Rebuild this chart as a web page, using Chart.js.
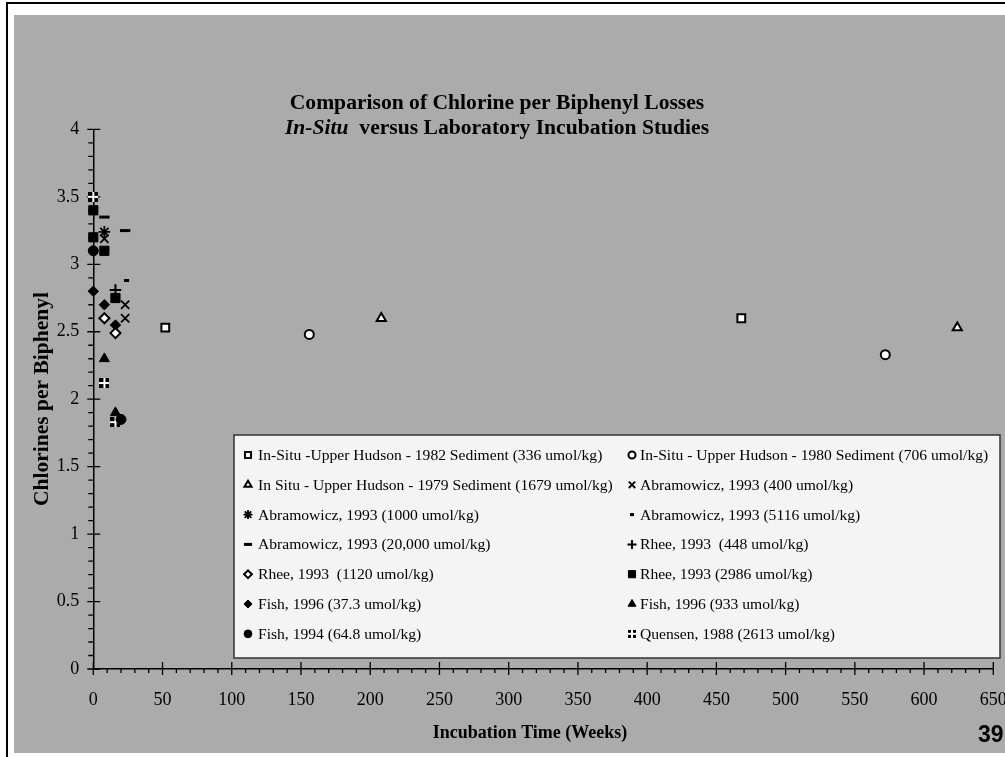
<!DOCTYPE html>
<html><head><meta charset="utf-8">
<script src="https://cdn.jsdelivr.net/npm/chart.js@4/dist/chart.umd.min.js"></script>
<style>
html,body{margin:0;padding:0;background:#fff;width:1005px;height:757px;overflow:hidden;}
#frame{position:absolute;left:6px;top:2px;width:1010px;height:770px;border-left:2px solid #000;border-top:2px solid #000;}
#panel{position:absolute;left:14px;top:15px;width:991px;height:738px;background:#ababab;}
canvas{display:block;}
</style></head><body>
<div id="frame"></div>
<div id="panel"><canvas id="c" width="991" height="738" style="width:991px;height:738px"></canvas></div>
<script>
// ---------- DATA ----------
const seriesLabels = [
  'In-Situ -Upper Hudson - 1982 Sediment (336 umol/kg)',
  'In-Situ - Upper Hudson - 1980 Sediment (706 umol/kg)',
  'In Situ - Upper Hudson - 1979 Sediment (1679 umol/kg)',
  'Abramowicz, 1993 (400 umol/kg)',
  'Abramowicz, 1993 (1000 umol/kg)',
  'Abramowicz, 1993 (5116 umol/kg)',
  'Abramowicz, 1993 (20,000 umol/kg)',
  'Rhee, 1993  (448 umol/kg)',
  'Rhee, 1993  (1120 umol/kg)',
  'Rhee, 1993 (2986 umol/kg)',
  'Fish, 1996 (37.3 umol/kg)',
  'Fish, 1996 (933 umol/kg)',
  'Fish, 1994 (64.8 umol/kg)',
  'Quensen, 1988 (2613 umol/kg)'
];
const weeksInSitu1982 = [52, 468];      const clInSitu1982 = [2.53, 2.60];
const weeksInSitu1980 = [156, 572];     const clInSitu1980 = [2.48, 2.33];
const weeksInSitu1979 = [208, 624];     const clInSitu1979 = [2.60, 2.53];
const weeksAbr400 = [8, 23, 23];        const clAbr400 = [3.19, 2.70, 2.60];
const weeksAbr1000 = [8];               const clAbr1000 = [3.24];
const weeksAbr5116 = [24];              const clAbr5116 = [2.88];
const weeksAbr20000 = [8, 23];          const clAbr20000 = [3.35, 3.25];
const weeksRhee448 = [16];              const clRhee448 = [2.81];
const weeksRhee1120 = [8, 16];          const clRhee1120 = [2.60, 2.49];
const weeksRhee2986 = [0, 0, 8, 16];    const clRhee2986 = [3.40, 3.20, 3.10, 2.75];
const weeksFish96a = [0, 8, 16];        const clFish96a = [2.80, 2.70, 2.55];
const weeksFish96b = [8, 16];           const clFish96b = [2.30, 1.90];
const weeksFish94 = [0, 20];            const clFish94 = [3.10, 1.85];
const weeksQuensen = [0, 8, 16];        const clQuensen = [3.50, 2.12, 1.83];

const xTickLabels = ['0','50','100','150','200','250','300','350','400','450','500','550','600','650'];
const yTickLabels = ['0','0.5','1','1.5','2','2.5','3','3.5','4'];

const seriesWeeks = [weeksInSitu1982, weeksInSitu1980, weeksInSitu1979, weeksAbr400, weeksAbr1000,
  weeksAbr5116, weeksAbr20000, weeksRhee448, weeksRhee1120, weeksRhee2986, weeksFish96a, weeksFish96b,
  weeksFish94, weeksQuensen];
const seriesCl = [clInSitu1982, clInSitu1980, clInSitu1979, clAbr400, clAbr1000, clAbr5116, clAbr20000,
  clRhee448, clRhee1120, clRhee2986, clFish96a, clFish96b, clFish94, clQuensen];

// ---------- STYLES ----------
function quensenMark(s){
  const c=document.createElement('canvas'); c.width=s; c.height=s;
  const g=c.getContext('2d'); g.fillStyle='#000'; g.fillRect(0,0,s,s);
  g.fillStyle='#fff'; const m=s/2; g.fillRect(m-1,0,2,s); g.fillRect(0,m-1,s,2);
  return c;
}
const qPlot = quensenMark(10), qLeg = quensenMark(8);
const W='#ffffff', K='#000000';
const markerStyles = [
  {pointStyle:'rect', radius:5.5, bg:W, bw:2},
  {pointStyle:'circle', radius:4.5, bg:W, bw:2},
  {pointStyle:'triangle', radius:5.3, bg:W, bw:2},
  {pointStyle:'crossRot', radius:5.8, bg:K, bw:1.8},
  {pointStyle:'star', radius:5.8, bg:K, bw:1.8},
  {pointStyle:'line', radius:2.6, bg:K, bw:3},
  {pointStyle:'line', radius:5.2, bg:K, bw:3},
  {pointStyle:'cross', radius:5.8, bg:K, bw:2},
  {pointStyle:'rectRot', radius:5, bg:W, bw:2},
  {pointStyle:'rect', radius:6.5, bg:K, bw:1},
  {pointStyle:'rectRot', radius:5.2, bg:K, bw:1},
  {pointStyle:'triangle', radius:5.8, bg:K, bw:1},
  {pointStyle:'circle', radius:5, bg:K, bw:1},
  {pointStyle:qPlot, radius:5, bg:K, bw:0}
];

const datasets = seriesLabels.map((lab,i)=>({
  label: lab,
  data: seriesWeeks[i].map((w,j)=>({x:w, y:seriesCl[i][j]})),
  pointStyle: markerStyles[i].pointStyle,
  pointRadius: markerStyles[i].radius,
  pointBackgroundColor: markerStyles[i].bg,
  pointBorderColor: '#000',
  pointBorderWidth: markerStyles[i].bw,
  showLine: false,
  clip: false
}));

const serif = '"Liberation Serif", "Times New Roman", serif';

const decor = {
  id:'decor',
  beforeDatasetsDraw(chart){
    const ctx=chart.ctx, xs=chart.scales.x, ys=chart.scales.y;
    const yb=ys.getPixelForValue(0), xl=xs.getPixelForValue(0);
    ctx.save(); ctx.strokeStyle='#000'; ctx.lineWidth=1.3;
    ctx.beginPath();
    for(let i=0;i<=65;i++){
      const px=xs.getPixelForValue(i*10);
      if(i%5===0){ctx.moveTo(px,yb-7);ctx.lineTo(px,yb+6);}
      else {ctx.moveTo(px,yb);ctx.lineTo(px,yb+4);}
    }
    for(let i=0;i<=40;i++){
      const py=ys.getPixelForValue(i/10);
      if(i%5===0){ctx.moveTo(xl-6,py);ctx.lineTo(xl+7,py);}
      else {ctx.moveTo(xl-5,py);ctx.lineTo(xl,py);}
    }
    ctx.stroke(); ctx.restore();
  },
  afterDraw(chart){
    const ctx=chart.ctx;
    ctx.save();
    ctx.fillStyle='#000'; ctx.textBaseline='middle';
    // main title
    const tf='21.6px '+serif;
    ctx.textAlign='center';
    ctx.font='bold '+tf;
    ctx.fillText('Comparison of Chlorine per Biphenyl Losses', 483, 88);
    const p1='In-Situ', p2='  versus Laboratory Incubation Studies';
    ctx.font='italic bold '+tf; const w1=ctx.measureText(p1).width;
    ctx.font='bold '+tf; const w2=ctx.measureText(p2).width;
    let sx=483-(w1+w2)/2; ctx.textAlign='left';
    ctx.font='italic bold '+tf; ctx.fillText(p1,sx,113);
    ctx.font='bold '+tf; ctx.fillText(p2,sx+w1,113);
    // axis titles
    ctx.textAlign='center';
    ctx.font='bold 18px '+serif;
    ctx.fillText('Incubation Time (Weeks)', 516, 718);
    ctx.save(); ctx.translate(28,384); ctx.rotate(-Math.PI/2);
    ctx.font='bold 21.5px '+serif; ctx.fillText('Chlorines per Biphenyl',0,0); ctx.restore();
    // slide number
    ctx.textAlign='left'; ctx.font='bold 23px "Liberation Sans", Arial, sans-serif';
    ctx.fillText('39', 964, 721);
    // legend box
    const L=220, T=420, R=986, B=643;
    ctx.fillStyle='#f4f4f4'; ctx.fillRect(L,T,R-L,B-T);
    ctx.strokeStyle='#333'; ctx.lineWidth=1.5; ctx.strokeRect(L,T,R-L,B-T);
    ctx.font='15.6px '+serif; ctx.textAlign='left'; ctx.textBaseline='middle';
    chart.data.datasets.forEach((ds,i)=>{
      const col=i%2, row=Math.floor(i/2);
      const y=440+row*29.8;
      const mx= col===0?234:618, tx= col===0?244:626;
      const ms=markerStyles[i];
      ctx.save();
      ctx.fillStyle=ms.bg; ctx.strokeStyle='#000'; ctx.lineWidth=ms.bw;
      const st = ms.pointStyle===qPlot ? qLeg : ms.pointStyle;
      Chart.helpers.drawPoint(ctx,{pointStyle:st, radius:ms.radius*0.78, rotation:0, borderWidth:ms.bw}, mx, y);
      ctx.restore();
      ctx.fillStyle='#000';
      ctx.fillText(ds.label, tx, y+1);
    });
    ctx.restore();
  }
};

const tickFont = {family:serif, size:18};
new Chart(document.getElementById('c').getContext('2d'), {
  type:'scatter',
  data:{datasets},
  options:{
    responsive:false, animation:false, events:[],
    layout:{padding:{left:0, right:11.7, top:114.4, bottom:0}},
    plugins:{legend:{display:false}, tooltip:{enabled:false}, title:{display:false}},
    scales:{
      x:{type:'linear', min:0, max:650,
        ticks:{stepSize:50, color:'#000', font:tickFont, padding:20, maxRotation:0, autoSkip:false,
          callback:(v)=>xTickLabels[Math.round(v/50)] ?? ''},
        grid:{display:true, drawOnChartArea:false, drawTicks:false},
        border:{display:true, color:'#000', width:1.5},
        afterFit(s){s.height=84; s.paddingLeft=0; s.paddingRight=0;}
      },
      y:{type:'linear', min:0, max:4,
        ticks:{stepSize:0.5, color:'#000', font:tickFont, padding:14,
          callback:(v)=>yTickLabels[Math.round(v*2)] ?? ''},
        grid:{display:true, drawOnChartArea:false, drawTicks:false},
        border:{display:true, color:'#000', width:1.5},
        afterFit(s){s.width=79.3; s.paddingTop=0; s.paddingBottom=0;}
      }
    }
  },
  plugins:[decor]
});
</script></body></html>
